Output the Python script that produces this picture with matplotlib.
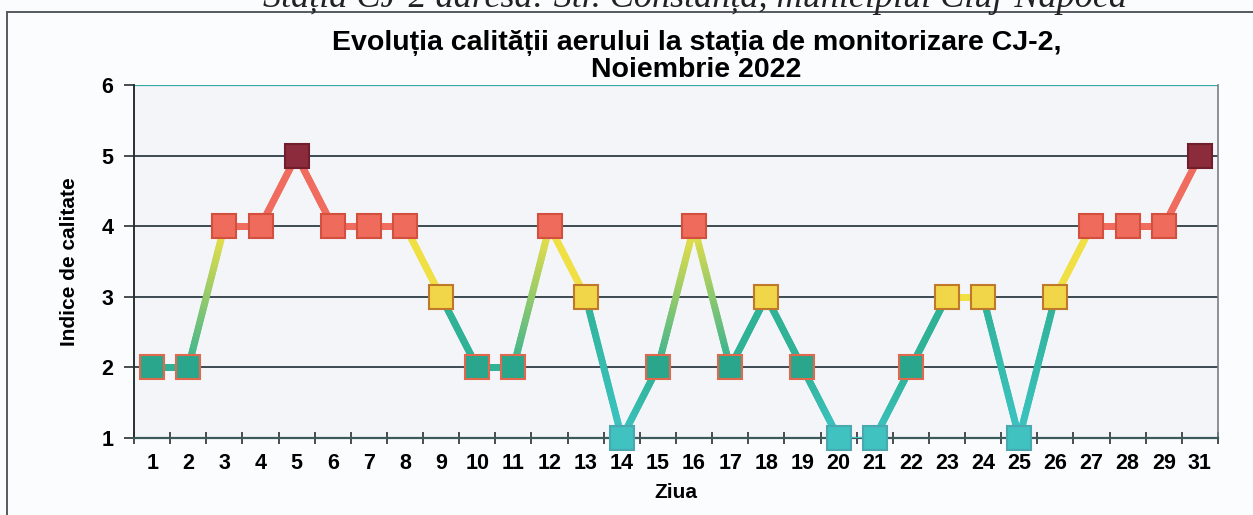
import matplotlib
matplotlib.use("Agg")
import matplotlib.pyplot as plt
import numpy as np
from matplotlib.collections import LineCollection
from matplotlib.colors import to_rgb

# zilele din noiembrie 2022 (ziua 30 lipseste)
days = ["1", "2", "3", "4", "5", "6", "7", "8", "9", "10", "11", "12", "13", "14", "15",
        "16", "17", "18", "19", "20", "21", "22", "23", "24", "25", "26", "27", "28", "29", "31"]
index = [2, 2, 4, 4, 5, 4, 4, 4, 3, 2, 2, 4, 3, 1, 2,
         4, 2, 3, 2, 1, 1, 2, 3, 3, 1, 3, 4, 4, 4, 5]

# culori pe nivel de indice
face_col = {1: "#3fc2c0", 2: "#2aa68c", 3: "#f2d64a", 4: "#ef6b5b", 5: "#8c2b3c"}
edge_col = {1: "#4aa8b0", 2: "#e0684c", 3: "#c0782a", 4: "#d4503e", 5: "#6e1e2c"}
line_col = {1: "#3cc4c4", 2: "#30b296", 3: "#f0e044", 4: "#f06c5e", 5: "#f06c5e"}


def seg_colors(a, b):
    # culoarea capatului de jos si a celui de sus
    lo, hi = min(a, b), max(a, b)
    if lo == hi:
        return line_col[lo], line_col[hi]
    if hi == 5:
        return line_col[4], line_col[4]
    if hi <= 3:
        return line_col[lo], line_col[2]
    if lo == 3:
        return line_col[3], line_col[3]
    return line_col[2], line_col[3]


fig = plt.figure(figsize=(12.53, 5.15), dpi=100, facecolor="#fbfcfd")
ax = fig.add_axes([0.107, 0.1495, 0.865, 0.6855])
ax.set_facecolor("#f3f5f9")

x = np.arange(len(days))

# linii cu gradient de culoare
for i in range(len(x) - 1):
    a, b = index[i], index[i + 1]
    c_lo, c_hi = seg_colors(a, b)
    t = np.linspace(0, 1, 40)
    xs = x[i] + t * (x[i + 1] - x[i])
    ys = a + t * (b - a)
    pts = np.column_stack([xs, ys]).reshape(-1, 1, 2)
    segs = np.concatenate([pts[:-1], pts[1:]], axis=1)
    lo, hi = min(a, b), max(a, b)
    ym = 0.5 * (ys[:-1] + ys[1:])
    frac = (ym - lo) / (hi - lo) if hi != lo else np.zeros(len(segs))
    c0, c1 = np.array(to_rgb(c_lo)), np.array(to_rgb(c_hi))
    cols = c0[None, :] * (1 - frac[:, None]) + c1[None, :] * frac[:, None]
    lw = 2.0 if a == b == 1 else 5.0
    ax.add_collection(LineCollection(segs, colors=cols, linewidths=lw, zorder=3,
                                     capstyle="round"))

for xi, v in zip(x, index):
    ax.plot(xi, v, marker="s", markersize=17, markerfacecolor=face_col[v],
            markeredgecolor=edge_col[v], markeredgewidth=1.5, zorder=4,
            clip_on=False)

ax.set_xlim(-0.5, len(days) - 0.5)
ax.set_ylim(1, 6)

# grila orizontala
for yv in range(2, 6):
    ax.axhline(yv, color="#3e4a52", lw=1.4, zorder=1)
ax.axhline(6, color="#3aa8a4", lw=1.6, zorder=1)

ax.spines["top"].set_visible(False)
ax.spines["left"].set_color("#2a2f33")
ax.spines["left"].set_linewidth(1.4)
ax.spines["bottom"].set_color("#3a5a5c")
ax.spines["bottom"].set_linewidth(1.6)
ax.spines["right"].set_color("#7a7f84")
ax.spines["right"].set_linewidth(1.2)

ax.set_yticks([1, 2, 3, 4, 5, 6])
ax.set_yticklabels(["1", "2", "3", "4", "5", "6"], fontsize=15.5, fontweight="bold",
                   family="Liberation Sans")
ax.tick_params(axis="y", direction="out", length=7, width=1.2, color="#2a2f33", pad=8)

ax.set_xticks(np.arange(len(days) + 1) - 0.5)
ax.set_xticklabels([])
ax.tick_params(axis="x", which="major", direction="inout", length=8, width=1.2,
               color="#2a2f33")
ax.set_xticks(x, minor=True)
ax.set_xticklabels(days, minor=True, fontsize=15.5, fontweight="bold",
                   family="Liberation Sans")
ax.tick_params(axis="x", which="minor", length=0, pad=11)

ax.set_xlabel("Ziua", fontsize=15, fontweight="bold", family="Liberation Sans",
              labelpad=6)
ax.set_ylabel("Indice de calitate", fontsize=15, fontweight="bold",
              family="Liberation Sans", labelpad=16)

fig.text(0.556, 1 - 43 / 515,
         "Evoluția calității aerului la stația de monitorizare CJ-2,",
         ha="center", va="center", fontsize=20.5, fontweight="bold",
         family="Liberation Sans")
fig.text(0.556, 1 - 70 / 515, "Noiembrie 2022",
         ha="center", va="center", fontsize=20.5, fontweight="bold",
         family="Liberation Sans")

# antetul taiat din document
fig.text(0.555, 1 - 7 / 515,
         "Stația CJ-2 adresa: Str. Constanța, municipiul Cluj-Napoca",
         ha="center", va="baseline", fontsize=26, family="Liberation Serif",
         style="italic", color="#222222")

# chenarul graficului
fig.add_artist(plt.Line2D([7 / 1253, 7 / 1253], [0, 1 - 12 / 515],
                          transform=fig.transFigure, color="#555a5e", lw=1.4))
fig.add_artist(plt.Line2D([7 / 1253, 1], [1 - 12 / 515, 1 - 12 / 515],
                          transform=fig.transFigure, color="#555a5e", lw=1.4))

fig.savefig("out.png", dpi=100, facecolor=fig.get_facecolor())
